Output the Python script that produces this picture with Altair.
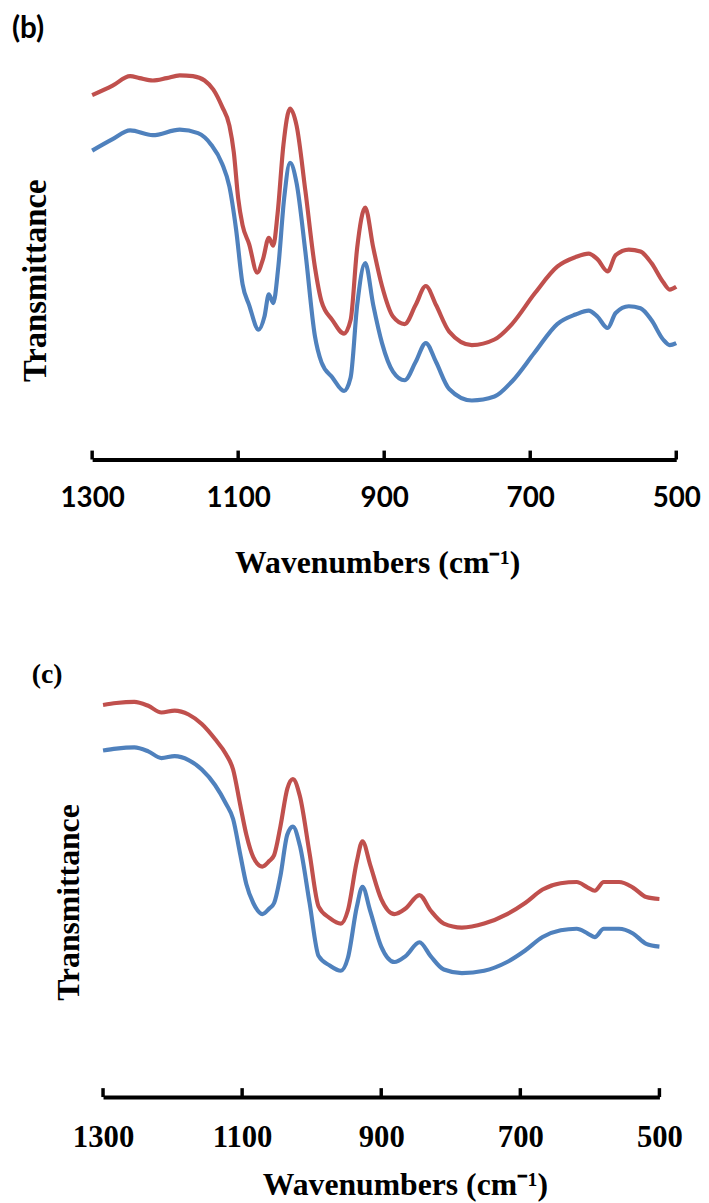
import altair as alt
import pandas as pd

# ---------------- data (arbitrary transmittance units) -------------
# panel (b)
b_red_wn = [1300, 1272, 1248, 1235, 1217, 1198, 1180, 1162, 1146, 1134, 1122, 1112, 1106, 1100,
            1094, 1085, 1074, 1066, 1058, 1052, 1046, 1038, 1029, 1020, 1008, 995, 986, 971, 955,
            946, 937, 926, 915, 903, 888, 872, 857, 843, 829, 811, 780, 749, 725, 694, 663, 638,
            620, 608, 594, 583, 565, 549, 534, 518, 509, 500]
b_red_t = [92.0, 94.4, 96.8, 96.3, 95.7, 96.3, 97.0, 96.8, 95.7, 93.4, 89.1, 84.3, 77.6, 66.0,
           59.2, 54.4, 47.2, 50.6, 56.0, 54.0, 62.1, 79.5, 88.6, 84.3, 67.9, 48.7, 40.0, 35.2, 31.8,
           35.2, 53.5, 63.6, 53.5, 43.8, 36.1, 34.2, 39.0, 43.8, 39.0, 32.3, 28.9, 30.3, 34.2, 41.9,
           48.7, 51.1, 52.0, 50.6, 47.5, 51.6, 53.0, 52.5, 49.6, 44.8, 42.9, 43.6]
b_blue_wn = [1300, 1272, 1248, 1217, 1180, 1155, 1137, 1122, 1112, 1103, 1094, 1085, 1072, 1064,
             1058, 1052, 1045, 1037, 1029, 1020, 1008, 995, 986, 971, 955, 946, 937, 926, 915,
             903, 888, 872, 857, 843, 829, 811, 780, 749, 725, 694, 663, 638, 620, 608, 594, 583,
             565, 549, 534, 518, 509, 500]
b_blue_t = [78.0, 80.9, 83.1, 81.9, 83.3, 82.4, 79.5, 74.7, 68.9, 58.3, 44.3, 39.0, 32.8, 36.1,
            41.7, 39.5, 48.7, 66.0, 74.9, 69.8, 52.5, 31.3, 24.6, 20.7, 17.3, 20.7, 39.0, 49.6, 39.0,
            29.4, 22.2, 20.0, 24.6, 29.4, 24.6, 17.8, 14.9, 15.9, 19.7, 27.0, 34.2, 36.6, 37.6, 36.1,
            33.2, 37.0, 38.7, 38.2, 35.2, 30.3, 28.9, 29.4]

# panel (c)
c_wn = [1300, 1281, 1255, 1235, 1216, 1197, 1177, 1158, 1139, 1123, 1113, 1103, 1094, 1084, 1071,
        1061, 1054, 1045, 1035, 1027, 1017, 1003, 990, 974, 958, 948, 935, 927, 916, 900, 881,
        865, 845, 829, 810, 784, 752, 719, 693, 668, 642, 619, 603, 593, 580, 558, 538, 519, 500]
c_red_t = [99.0, 99.5, 99.8, 98.8, 97.1, 97.6, 96.6, 94.2, 90.4, 86.5, 82.7, 74.0, 66.3, 60.6, 58.2,
           59.6, 61.1, 68.3, 77.9, 80.3, 76.0, 61.5, 48.1, 45.2, 43.8, 47.1, 59.6, 64.6, 58.7, 50.0,
           46.2, 47.6, 51.0, 47.1, 43.8, 42.8, 43.8, 46.2, 49.0, 52.4, 54.0, 54.3, 52.9, 52.1, 54.3,
           54.3, 52.9, 50.5, 50.0]
c_blue_t = [87.5, 88.0, 88.3, 87.3, 85.6, 86.1, 85.1, 82.7, 78.8, 74.0, 70.2, 61.5, 53.8, 49.0, 46.2,
            47.6, 49.0, 55.8, 66.3, 68.3, 63.5, 49.0, 35.6, 33.2, 31.9, 35.1, 48.1, 53.1, 47.1, 38.0,
            34.1, 35.6, 39.1, 35.6, 32.2, 31.3, 31.9, 34.1, 37.0, 40.4, 42.1, 42.5, 41.3, 40.4, 42.5,
            42.5, 41.3, 38.7, 38.0]

tick_values = [1300, 1100, 900, 700, 500]
series_names = ["red", "blue"]
series_colors = ["#C0504D", "#4F81BD"]

W, H = 590, 400


def make_df(red_wn, red_t, blue_wn, blue_t):
    a = pd.DataFrame({"wn": red_wn, "t": red_t, "s": "red"})
    b = pd.DataFrame({"wn": blue_wn, "t": blue_t, "s": "blue"})
    return pd.concat([b, a], ignore_index=True)


def panel(df, label, label_font, label_size, label_x, label_y,
          tick_font, tick_size, tick_weight, label_pad,
          xrange, xtitle_x, xtitle_y, ytitle_x, ytitle_y, ytitle_size, xtitle_size):
    xscale = alt.Scale(domain=[1300, 500], range=xrange, nice=False, zero=False)
    xaxis = alt.Axis(values=tick_values, format="d", ticks=False, tickSize=0, grid=False,
                     domain=True, domainColor="black", domainWidth=4,
                     labelFont=tick_font, labelFontSize=tick_size, labelFontWeight=tick_weight,
                     labelColor="black", labelPadding=label_pad, labelBaseline="middle",
                     labelFlush=False, labelOverlap=False,
                     title="Wavenumbers (cm⁻¹)", titleFont="Liberation Serif",
                     titleFontSize=xtitle_size, titleFontWeight="bold", titleColor="black",
                     titleX=xtitle_x, titleY=xtitle_y, titleAlign="center",
                     titleBaseline="middle")
    yaxis = alt.Axis(labels=False, ticks=False, domain=False, grid=False,
                     title="Transmittance", titleFont="Liberation Serif",
                     titleFontSize=ytitle_size, titleFontWeight="bold", titleColor="black",
                     titleX=ytitle_x, titleY=ytitle_y, titleAlign="center",
                     titleBaseline="middle")
    lines = alt.Chart(df).mark_line(strokeWidth=4.2, interpolate="monotone").encode(
        x=alt.X("wn:Q", scale=xscale, axis=xaxis),
        y=alt.Y("t:Q", scale=alt.Scale(domain=[0, 100], nice=False, zero=False), axis=yaxis),
        color=alt.Color("s:N", scale=alt.Scale(domain=series_names, range=series_colors),
                        legend=None),
        detail="s:N",
    )
    ticks = alt.Chart(pd.DataFrame({"wn": tick_values})).mark_rule(
        color="black", strokeWidth=3.5).encode(
        x=alt.X("wn:Q", scale=xscale),
        y=alt.value(H - 9), y2=alt.value(H),
    )
    text = alt.Chart(pd.DataFrame({"lab": [label]})).mark_text(
        font=label_font, fontSize=label_size, fontWeight="bold",
        align="left", baseline="middle", color="black").encode(
        text="lab:N", x=alt.value(label_x), y=alt.value(label_y))
    return alt.layer(lines, ticks, text).properties(width=W, height=H)


pb = panel(make_df(b_red_wn, b_red_t, b_blue_wn, b_blue_t), label="(b)", label_font="Lato",
           label_size=30, label_x=-81, label_y=-35,
           tick_font="Lato", tick_size=28, tick_weight="bold", label_pad=39,
           xrange=[0, 590], xtitle_x=288, xtitle_y=104, ytitle_x=-57, ytitle_y=219,
           ytitle_size=33, xtitle_size=32)
pc = panel(make_df(c_wn, c_red_t, c_wn, c_blue_t), label="(c)", label_font="Liberation Serif",
           label_size=28, label_x=-61, label_y=-26,
           tick_font="Liberation Serif", tick_size=31, tick_weight="bold", label_pad=41,
           xrange=[11, 573], xtitle_x=316, xtitle_y=88, ytitle_x=-24, ytitle_y=203,
           ytitle_size=32, xtitle_size=32)

chart = alt.vconcat(pb, pc, spacing=84).properties(
    padding={"left": 4, "top": 0, "right": 0, "bottom": 0}
).configure_view(stroke=None)

chart.save("out.html", embed_options={"renderer": "svg", "actions": False})
